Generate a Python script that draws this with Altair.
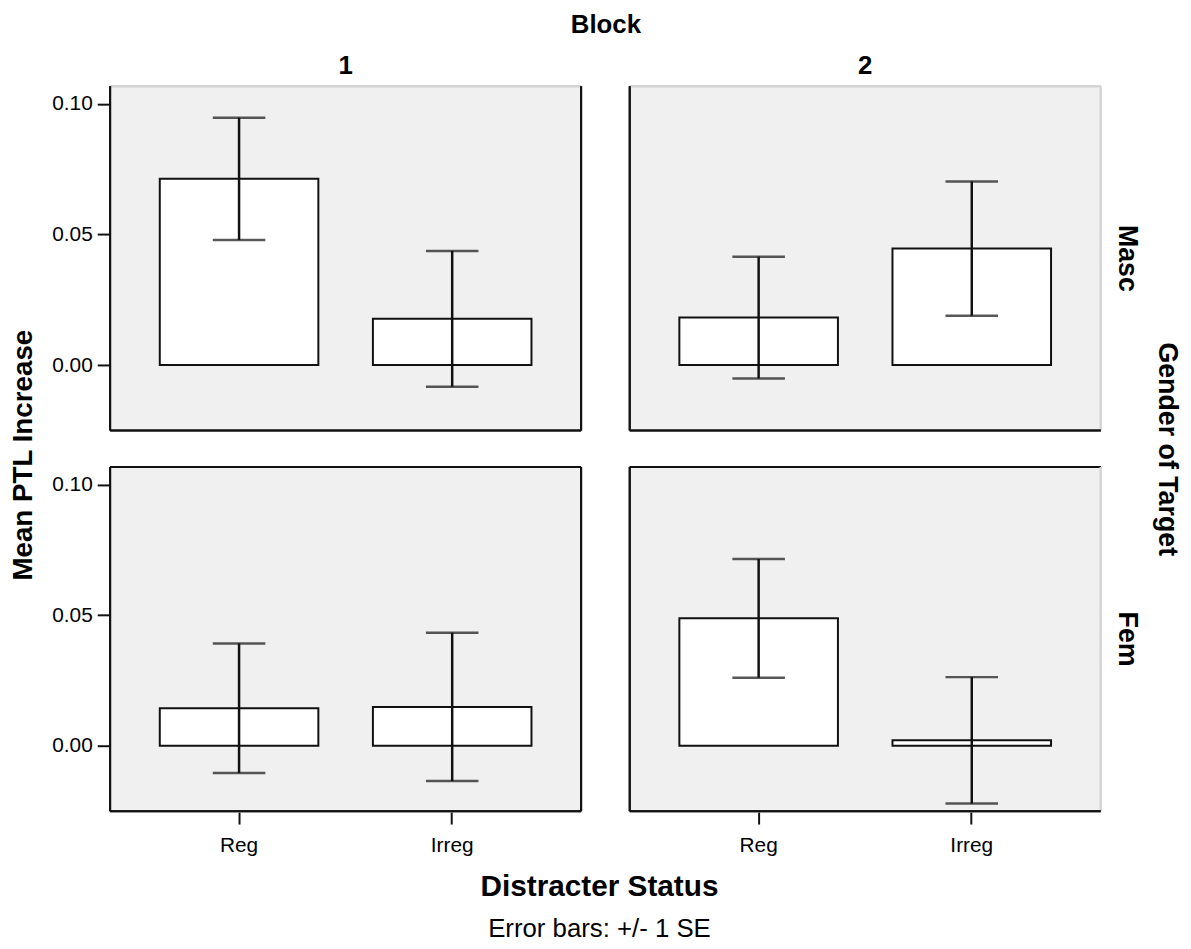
import altair as alt
import pandas as pd

# ---- data ----
blocks   = [1, 1, 2, 2, 1, 1, 2, 2]
genders  = ["Masc", "Masc", "Masc", "Masc", "Fem", "Fem", "Fem", "Fem"]
statuses = ["Reg", "Irreg", "Reg", "Irreg", "Reg", "Irreg", "Reg", "Irreg"]
means    = [0.0713, 0.0177, 0.0182, 0.0446, 0.0144, 0.0149, 0.0488, 0.0021]
ses      = [0.0234, 0.0260, 0.0233, 0.0257, 0.0248, 0.0284, 0.0227, 0.0242]

status_order = ["Reg", "Irreg"]
gender_order = ["Masc", "Fem"]
y_ticks = [0.0, 0.05, 0.10]

y_title = "Mean PTL Increase"
x_title = "Distracter Status"
note = "Error bars: +/- 1 SE"

df = pd.DataFrame({
    "block": blocks,
    "gender": genders,
    "status": statuses,
    "mean": means,
    "se": ses,
})
df["lo"] = df["mean"] - df["se"]
df["hi"] = df["mean"] + df["se"]
df["base"] = 0.0

FONT = "Liberation Sans"
DARK = "#111111"
LIGHT = "#d3d3d3"
PANEL = "#f0f0f0"

x_enc = alt.X(
    "status:N",
    sort=status_order,
    scale=alt.Scale(paddingInner=0.256, paddingOuter=0.233),
    axis=alt.Axis(
        title=None,
        labelAngle=0,
        labelFontSize=21,
        labelColor="#000000",
        labelPadding=11,
        tickSize=12,
        tickWidth=2,
        tickColor=DARK,
        domain=False,
    ),
)
y_scale = alt.Scale(domain=[-0.025, 0.1067], nice=False, zero=False)
y_axis = alt.Axis(
    title=None,
    values=y_ticks,
    format=".2f",
    grid=False,
    labelFontSize=21,
    labelColor="#000000",
    labelPadding=5,
    tickSize=12,
    tickWidth=2,
    tickColor=DARK,
    domain=False,
)

# panel background
bg = alt.Chart().mark_rect(fill=PANEL).encode(
    x=alt.value(0), x2=alt.value("width"), y=alt.value(0), y2=alt.value("height"))

bars = alt.Chart().mark_bar(fill="white", stroke=DARK, strokeWidth=2).encode(
    x=x_enc,
    y=alt.Y("mean:Q", scale=y_scale, axis=y_axis),
    y2="base:Q",
)
err = alt.Chart().mark_rule(color=DARK, strokeWidth=2.5).encode(
    x=alt.X("status:N", sort=status_order),
    y=alt.Y("lo:Q"),
    y2="hi:Q",
)
cap_lo = alt.Chart().mark_tick(color=DARK, thickness=2.5, size=53).encode(
    x=alt.X("status:N", sort=status_order),
    y=alt.Y("lo:Q"),
)
cap_hi = alt.Chart().mark_tick(color=DARK, thickness=2.5, size=53).encode(
    x=alt.X("status:N", sort=status_order),
    y=alt.Y("hi:Q"),
)

# panel frame edges
left_edge = alt.Chart().mark_rule(strokeWidth=2, color=DARK).encode(
    x=alt.value(0), y=alt.value(0), y2=alt.value("height"))
bottom_edge = alt.Chart().mark_rule(strokeWidth=2, color=DARK).encode(
    x=alt.value(0), x2=alt.value("width"), y=alt.value("height"))
top_edge = alt.Chart().mark_rule(strokeWidth=2).encode(
    x=alt.value(0), x2=alt.value("width"), y=alt.value(0),
    color=alt.condition("datum.gender == 'Fem'", alt.value(DARK), alt.value(LIGHT)))
right_edge = alt.Chart().mark_rule(strokeWidth=2).encode(
    x=alt.value("width"), y=alt.value(0), y2=alt.value("height"),
    color=alt.condition("datum.block == 1", alt.value(DARK), alt.value(LIGHT)))

layer = alt.layer(
    bg, bars, err, cap_lo, cap_hi, top_edge, right_edge, left_edge, bottom_edge
).properties(width=475, height=347)

facet = layer.facet(
    data=df,
    column=alt.Column(
        "block:N",
        header=alt.Header(
            title="Block",
            titleFontSize=26, titleFontWeight="bold", titlePadding=6,
            labelFontSize=26, labelFontWeight="bold", labelPadding=6,
        ),
    ),
    row=alt.Row(
        "gender:N",
        sort=gender_order,
        header=alt.Header(
            title="Gender of Target",
            titleOrient="right", labelOrient="right",
            titleAngle=90, labelAngle=90,
            titleFontSize=27, titleFontWeight="bold", titlePadding=3,
            labelFontSize=27, labelFontWeight="bold", labelPadding=11,
        ),
    ),
    spacing={"row": 35, "column": 47},
)

ytitle = alt.Chart(pd.DataFrame({"t": [y_title]})).mark_text(
    angle=270, fontSize=28, fontWeight="bold", color="#000000",
    align="center", baseline="middle",
).encode(
    text="t:N", x=alt.value(13), y=alt.value(372),
).properties(width=32, height=729)

chart = alt.hconcat(ytitle, facet, spacing=9).properties(
    padding={"left": 2, "top": 0, "right": 2, "bottom": 0},
    title=alt.TitleParams(
        x_title, subtitle=note, orient="bottom", anchor="middle",
        fontSize=30, fontWeight="bold", color="#000000",
        subtitleFontSize=26, subtitleColor="#000000", subtitleFontWeight="normal",
        subtitlePadding=14, offset=17, dx=4,
    ),
).configure(
    font=FONT,
).configure_view(
    stroke=None,
).configure_header(
    titleColor="#000000", labelColor="#000000",
)

chart.save("out.html", embed_options={"renderer": "svg", "actions": False})
